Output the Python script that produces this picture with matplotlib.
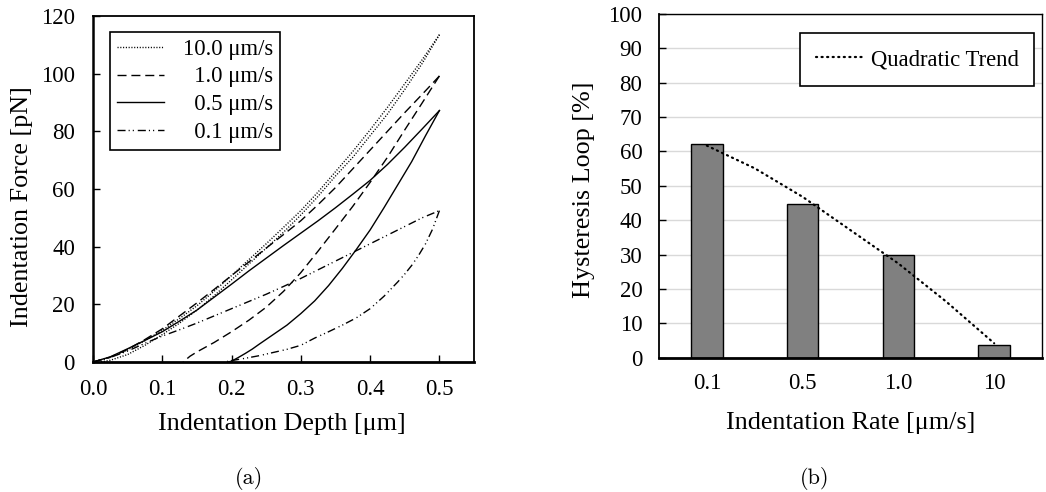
import matplotlib
matplotlib.use("Agg")
import matplotlib.pyplot as plt

plt.rcParams['font.family'] = ['Liberation Serif', 'DejaVu Serif']

# (a) indentation curves, loading branch (depth in um, force in pN)
load_depth = [0.0, 0.025, 0.05, 0.075, 0.1, 0.125, 0.15, 0.175, 0.2, 0.225, 0.25,
              0.275, 0.3, 0.325, 0.35, 0.375, 0.4, 0.425, 0.45, 0.475, 0.5]
load_10 = [0, 1.6, 4.2, 7.4, 11, 15.1, 19.5, 24.6, 30, 35.5, 41,
           46.7, 52.5, 59, 66, 73, 80.5, 88.3, 96.5, 104.8, 113.5]
load_1 = [0, 1.7, 4.4, 7.8, 11.5, 16, 20.5, 25.2, 30, 34.7, 39.5,
          44.2, 49, 54.6, 60.5, 67, 73.5, 80, 86.5, 92.8, 99.2]
load_05 = [0, 1.8, 4.6, 7.5, 10.5, 14.2, 18, 22.5, 27, 31.6, 36,
           40.4, 44.7, 49, 53.5, 58.2, 63, 68.5, 74.5, 80.8, 87.2]
load_01 = [0, 1.6, 3.8, 6.5, 9, 11.2, 13.5, 16, 18.5, 21, 23.5,
           26.2, 29, 32, 35, 38, 41, 44, 47, 50, 52.5]

# unloading branch
unload_10_x = [0.5, 0.475, 0.45, 0.425, 0.4, 0.375, 0.35, 0.325, 0.3, 0.275, 0.25,
               0.225, 0.2, 0.175, 0.15, 0.125, 0.1, 0.075, 0.05, 0.025, 0.01]
unload_10_y = [113.5, 103.5, 94.5, 86, 78.5, 71, 64.5, 57.5, 51, 45, 39.5,
               34, 28.5, 23, 18, 13.5, 9.5, 5.8, 2.6, 0.6, 0]
unload_1_x = [0.5, 0.475, 0.45, 0.425, 0.4, 0.375, 0.35, 0.325, 0.3, 0.275, 0.25,
              0.225, 0.2, 0.175, 0.15, 0.14, 0.13]
unload_1_y = [99.2, 89.8, 80.5, 71, 62.3, 54, 46.2, 38.5, 31, 24.5, 19,
              14.5, 10.5, 6.8, 3.5, 2.0, 0]
unload_05_x = [0.5, 0.48, 0.46, 0.44, 0.42, 0.4, 0.38, 0.36, 0.34, 0.32, 0.3,
               0.28, 0.26, 0.24, 0.23, 0.22, 0.21, 0.2, 0.195]
unload_05_y = [87.2, 78.5, 69.5, 61.5, 53.5, 45.8, 39, 32.5, 26.5, 21.2, 16.8,
               12.8, 9.5, 6.2, 4.5, 3.0, 1.6, 0.3, 0]
unload_01_x = [0.5, 0.49, 0.48, 0.47, 0.46, 0.45, 0.44, 0.42, 0.4, 0.38, 0.36,
               0.34, 0.32, 0.3, 0.28, 0.26, 0.24, 0.22, 0.2, 0.19]
unload_01_y = [52.5, 46, 41, 37, 33.5, 30.5, 27.8, 22.8, 18.5, 15.3, 12.8,
               10.5, 8.3, 5.8, 4.4, 3.3, 2.2, 1.3, 0.5, 0]

# (b) hysteresis vs rate
rates = ['0.1', '0.5', '1.0', '10']
hysteresis = [62.3, 44.6, 30.0, 3.6]
trend_pos = [0, 0.5, 1, 1.5, 2, 2.5, 3]
trend_vals = [61.7, 55.1, 46.8, 37.1, 27.4, 16.3, 4.2]

fig = plt.figure(figsize=(10.46, 4.92), dpi=100)
ax1 = fig.add_axes([0.0889, 0.2642, 0.3643, 0.7033])
ax2 = fig.add_axes([0.630, 0.273, 0.3662, 0.6985])

dotted = (0, (0.8, 1.2))
dashed = (0, (6.5, 3.5))
dashdotdot = (0, (5.8, 2.2, 0.8, 2.2, 0.8, 2.8))

curves = [
    ('10.0 \u03bcm/s', load_10, unload_10_x, unload_10_y, dotted),
    ('  1.0 \u03bcm/s', load_1, unload_1_x, unload_1_y, dashed),
    ('  0.5 \u03bcm/s', load_05, unload_05_x, unload_05_y, '-'),
    ('  0.1 \u03bcm/s', load_01, unload_01_x, unload_01_y, dashdotdot),
]
for label, load, ux, uy, ls in curves:
    ax1.plot(load_depth, load, color='black', lw=1.0, linestyle=ls, label=label)
    ax1.plot(ux, uy, color='black', lw=1.0, linestyle=ls)

ax1.set_xlim(0, 0.55)
ax1.set_ylim(0, 120)
ax1.set_xticks([0.0, 0.1, 0.2, 0.3, 0.4, 0.5])
ax1.set_xticklabels(['0.0', '0.1', '0.2', '0.3', '0.4', '0.5'])
ax1.set_yticks(range(0, 121, 20))
ax1.tick_params(axis='both', direction='in', length=5, width=1, labelsize=16.5)
ax1.tick_params(axis='x', pad=12)
ax1.tick_params(axis='y', pad=13)
for s in ax1.spines.values():
    s.set_linewidth(1.3)
ax1.spines['bottom'].set_linewidth(2)
ax1.spines['left'].set_linewidth(1.8)
ax1.set_xlabel('Indentation Depth [\u03bcm]', fontsize=18.8)
ax1.set_ylabel('Indentation Force [pN]', fontsize=18.8)
ax1.xaxis.set_label_coords(0.496, -0.147)
ax1.yaxis.set_label_coords(-0.157, 0.45)
leg1 = ax1.legend(loc='upper left', bbox_to_anchor=(0.045, 0.954), borderaxespad=0,
                  fontsize=16.3, fancybox=False, edgecolor='black', framealpha=1,
                  handlelength=2.1, labelspacing=0.3, borderpad=0.3)
leg1.get_frame().set_linewidth(1.2)

# right panel
xpos = range(len(rates))
ax2.set_axisbelow(True)
ax2.yaxis.grid(True, color='#d9d9d9', lw=1)
ax2.bar(xpos, hysteresis, width=0.33, color='#808080', edgecolor='black', lw=1)
ax2.plot(trend_pos, trend_vals, color='black', lw=1.6, linestyle=(0, (0.5, 2.0)),
         dash_capstyle='round', label='Quadratic Trend')
ax2.set_xlim(-0.5, 3.5)
ax2.set_ylim(0, 100)
ax2.set_yticks(range(0, 101, 10))
ax2.set_xticks(list(xpos))
ax2.set_xticklabels(rates)
ax2.tick_params(axis='y', direction='in', length=5, width=1, labelsize=16.5, pad=12)
ax2.tick_params(axis='x', length=0, labelsize=16.5, pad=11)
for s in ax2.spines.values():
    s.set_linewidth(1.0)
ax2.spines['bottom'].set_linewidth(2)
ax2.spines['left'].set_linewidth(1.3)
ax2.set_xlabel('Indentation Rate [\u03bcm/s]', fontsize=18.8)
ax2.set_ylabel('Hysteresis Loop [%]', fontsize=18.8)
ax2.xaxis.set_label_coords(0.5, -0.158)
ax2.yaxis.set_label_coords(-0.167, 0.488)
leg2 = ax2.legend(loc='upper right', bbox_to_anchor=(0.98, 0.944), borderaxespad=0,
                  fontsize=16.3, fancybox=False, edgecolor='black', framealpha=1,
                  handlelength=2.1, borderpad=0.7, handletextpad=0.3)
leg2.get_frame().set_linewidth(1.2)

# subfigure captions in a Computer Modern look
fig.text(249 / 1046, 1 - 479 / 492, '(a)', ha='center', va='center', fontsize=16,
         family=['cmr10', 'DejaVu Serif'])
fig.text(815 / 1046, 1 - 479 / 492, '(b)', ha='center', va='center', fontsize=16,
         family=['cmr10', 'DejaVu Serif'])

fig.savefig('out.png', dpi=100)
